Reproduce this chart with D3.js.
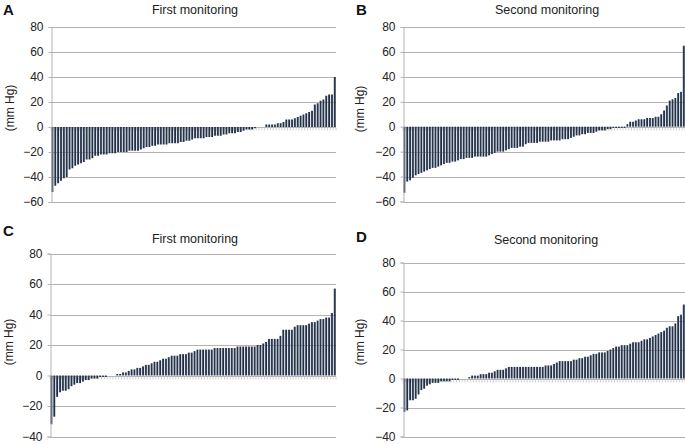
<!DOCTYPE html>
<html><head><meta charset="utf-8">
<script src="https://cdn.jsdelivr.net/npm/d3@7"></script>
<style>
html,body{margin:0;padding:0;background:#fff;}
svg{display:block;font-family:"Liberation Sans",Arial,Helvetica,sans-serif;}
</style></head>
<body>
<svg id="chart" width="685" height="444"></svg>
<script>
// ---- data ----
const panelLetters = ["A", "B", "C", "D"];
const panelTitles = ["First monitoring", "Second monitoring", "First monitoring", "Second monitoring"];
const yLabel = "(mm Hg)";
const ticksTop = [-60, -40, -20, 0, 20, 40, 60, 80];
const ticksBottom = [-40, -20, 0, 20, 40, 60, 80];

const valuesA = [
 -52,-47,-45,-43,-41,-40,-34,-33,-31,-30,-29,-28,-26,-26,-25,
 -23,-23,-22,-22,-22,-21,-21,-21,
 -20,-20,-20,-20,-19,-19,-19,-19,-18,
 -17,-16,-16,-15,-15,-14,-14,
 -14,-14,-13,-13,-13,-13,-12,-12,
 -11,-11,-10,-9,-9,-9,-9,
 -8,-8,-8,-7,-7,-7,-6,
 -6,-5,-5,-5,-4,-4,
 -3,-2,-2,-2,-1,
 0,0,0,
 2,2,2,2,3,3,4,6,6,6,7,8,9,10,11,12,13,18,19,21,22,25,26,26,40
];
const valuesB = [
 -53,-44,-43,-41,-39,-38,-37,-36,-35,-34,
 -33,-33,-32,-31,-30,-29,-29,-28,-28,-27,
 -26,-26,-25,-25,-25,-24,-24,-24,-24,-24,
 -23,-22,-21,-20,-20,-20,-19,-18,-17,-17,
 -17,-16,-16,-14,-13,-13,-13,-13,-12,-12,
 -12,-12,-11,-11,-11,-11,-10,-10,-10,-9,
 -8,-7,-7,-6,-6,-5,-5,-5,-4,-3,
 -3,-3,-2,-2,-1,-1,-1,-1,-1,
 2,4,4,5,6,6,6,7,7,7,8,8,10,13,17,21,22,23,27,28,65
];
const valuesC = [
 -32,-27,-14,-11,-10,-10,-9,-7,-6,-5,-5,-4,-3,-3,-2,-2,-2,-1,-1,-1,
 0,0,0,
 1,1,2,2,3,4,4,5,5,6,
 7,7,8,9,9,10,11,11,12,13,
 13,13,14,14,14,15,15,16,17,17,
 17,17,17,17,18,18,18,18,18,18,
 18,18,19,19,19,19,19,19,19,20,
 20,21,22,24,24,24,24,26,30,30,
 30,30,32,33,33,33,33,34,35,35,
 36,37,37,38,38,41,57
];
const valuesD = [
 -23,-22,-15,-15,-14,-11,-8,-7,-5,-4,-3,-3,-3,-2,-2,-2,-2,-1,-1,-1,
 0,0,0,
 1,2,2,2,3,3,3,4,4,5,
 6,6,6,7,8,8,8,8,8,8,
 8,8,8,8,8,8,8,9,9,9,
 10,11,12,12,12,12,12,13,13,14,
 14,15,15,16,17,17,18,18,18,19,
 20,21,22,22,23,23,23,24,25,25,
 25,26,27,27,28,29,30,31,32,33,35,36,36,38,43,44,51
];

// ---- layout ----
const panels = [
  {values: valuesA, ticks: ticksTop, x0: 51, x1: 336, yTop: 27, yBot: 202, letter:[3,15], title:[195,13.5], ylab:[10,108]},
  {values: valuesB, ticks: ticksTop, x0: 403, x1: 685, yTop: 27, yBot: 201.5, letter:[356,15], title:[547,13.5], ylab:[360,109]},
  {values: valuesC, ticks: ticksBottom, x0: 50, x1: 336, yTop: 253.5, yBot: 436.5, letter:[3,236], title:[195,242.5], ylab:[9,342]},
  {values: valuesD, ticks: ticksBottom, x0: 403, x1: 685, yTop: 262.5, yBot: 436.5, letter:[356,242], title:[546,243.5], ylab:[360,342]}
];

const svg = d3.select("#chart");
const defs = svg.append("defs");
const grad = defs.append("linearGradient").attr("id","barGrad").attr("x1","0").attr("x2","1").attr("y1","0").attr("y2","0");
grad.append("stop").attr("offset","0%").attr("stop-color","#7a89a0");
grad.append("stop").attr("offset","40%").attr("stop-color","#2a394e");
grad.append("stop").attr("offset","100%").attr("stop-color","#19253a");

const gridColor = "#b3b3b3";

panels.forEach((p, i) => {
  const g = svg.append("g");
  const ticks = p.ticks;
  const y = d3.scaleLinear().domain([ticks[0], ticks[ticks.length-1]]).range([p.yBot, p.yTop]);
  const x = d3.scaleBand().domain(d3.range(p.values.length)).range([p.x0, p.x1]).paddingInner(0.28).paddingOuter(0.1);

  // gridlines
  g.append("g").selectAll("line").data(ticks).join("line")
    .attr("x1", p.x0).attr("x2", p.x1)
    .attr("y1", d => Math.round(y(d)) + 0.5).attr("y2", d => Math.round(y(d)) + 0.5)
    .attr("stroke", gridColor).attr("stroke-width", 1);

  // category ticks on zero line
  const y0 = Math.round(y(0)) + 0.5;
  const stepAll = (p.x1 - p.x0) / p.values.length;
  g.append("g").selectAll("line").data(d3.range(p.values.length + 1)).join("line")
    .attr("x1", d => p.x0 + d * stepAll)
    .attr("x2", d => p.x0 + d * stepAll)
    .attr("y1", y0).attr("y2", y0 + 3)
    .attr("stroke", "#c4c4c4").attr("stroke-width", 0.8);

  // bars
  g.append("g").selectAll("rect").data(p.values).join("rect")
    .attr("x", (d, j) => x(j))
    .attr("width", x.bandwidth())
    .attr("y", d => Math.min(y(0), y(d)))
    .attr("height", d => Math.abs(y(d) - y(0)))
    .attr("fill", "url(#barGrad)");

  // y axis
  const axis = d3.axisLeft(y).tickValues(ticks).tickSize(3).tickPadding(5).tickFormat(d3.format("d"));
  const ag = g.append("g").attr("transform", `translate(${p.x0 + 0.5},0)`).call(axis);
  ag.select(".domain").attr("stroke", gridColor);
  ag.selectAll(".tick line").attr("stroke", gridColor);
  ag.selectAll(".tick text").attr("font-size", 12).attr("fill", "#222")
    .attr("font-family", "Liberation Sans, Arial, sans-serif");

  // y label
  svg.append("text")
    .attr("transform", `translate(${p.ylab[0]},${p.ylab[1]}) rotate(-90)`)
    .attr("text-anchor", "middle").attr("dy", "0.35em")
    .attr("font-size", 12).attr("fill", "#222").text(yLabel);

  // title
  svg.append("text").attr("x", p.title[0]).attr("y", p.title[1])
    .attr("text-anchor", "middle").attr("font-size", 12.5).attr("fill", "#222")
    .text(panelTitles[i]);

  // letter
  svg.append("text").attr("x", p.letter[0]).attr("y", p.letter[1])
    .attr("font-size", 15).attr("font-weight", "bold").attr("fill", "#111")
    .text(panelLetters[i]);
});
</script>
</body></html>
